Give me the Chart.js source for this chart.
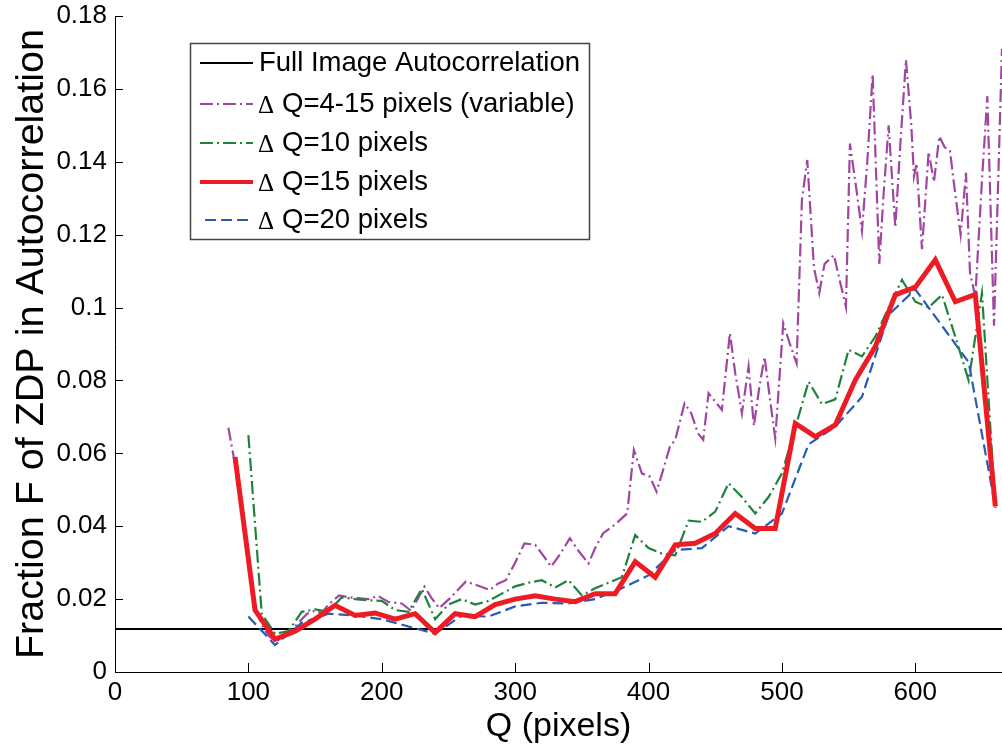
<!DOCTYPE html>
<html>
<head>
<meta charset="utf-8">
<script src="https://cdn.jsdelivr.net/npm/chart.js@4.4.0/dist/chart.umd.min.js"></script>
<style>
html, body { margin: 0; padding: 0; background: #fff; }
</style>
</head>
<body>
<canvas id="zdpChart" width="1002" height="747"></canvas>
<script>
// values
const fullImageQ = [0, 665];
const fullImageF = [0.0118, 0.0118];

const q15 = [90, 105, 120, 135, 150, 165, 180, 195, 210, 225,
             240, 255, 270, 285, 300, 315, 330, 345, 360, 375,
             390, 405, 420, 435, 450, 465, 480, 495, 510, 525,
             540, 555, 570, 585, 600, 615, 630, 645, 660];
const red15 = [0.059, 0.017, 0.009, 0.0112, 0.0145, 0.0183, 0.0155, 0.0162, 0.0145, 0.016,
               0.0108, 0.016, 0.0152, 0.0185, 0.020, 0.0209, 0.020, 0.0193, 0.0215, 0.0215,
               0.0303, 0.026, 0.0349, 0.0353, 0.038, 0.0435, 0.0394, 0.0394, 0.0682, 0.0646,
               0.0678, 0.0801, 0.0893, 0.1035, 0.1056, 0.1131, 0.1016, 0.1036, 0.0454];

const q10 = [100, 110, 120, 130, 140, 150, 160, 170, 180, 190,
             200, 210, 220, 230, 240, 250, 260, 270, 280, 290,
             300, 310, 320, 330, 340, 350, 360, 370, 380, 390,
             400, 410, 420, 430, 440, 450, 460, 470, 480, 490,
             500, 510, 520, 530, 540, 550, 560, 570, 580, 590,
             600, 610, 620, 630, 640, 650, 660];
const green10 = [0.065, 0.016, 0.0105, 0.0112, 0.0165, 0.0172, 0.0165, 0.0205, 0.020, 0.0197,
                 0.0195, 0.017, 0.0165, 0.0228, 0.0145, 0.0185, 0.020, 0.0185, 0.0195, 0.0215,
                 0.0235, 0.0245, 0.0252, 0.0232, 0.0252, 0.021, 0.023, 0.0245, 0.026, 0.0376,
                 0.034, 0.0325, 0.032, 0.0415, 0.0412, 0.044, 0.0518, 0.048, 0.0435, 0.048,
                 0.0545, 0.067, 0.0797, 0.0735, 0.0748, 0.0884, 0.0866, 0.092, 0.100, 0.1076,
                 0.1016, 0.100, 0.1035, 0.092, 0.080, 0.104, 0.045];

const q20 = [100, 120, 140, 160, 180, 200, 220, 240, 260, 280,
             300, 320, 340, 360, 380, 400, 420, 440, 460, 480,
             500, 520, 540, 560, 580, 600, 620, 640, 660];
const blue20 = [0.0152, 0.0074, 0.0135, 0.016, 0.0155, 0.0145, 0.0125, 0.0105, 0.0155, 0.0152,
                0.018, 0.019, 0.0188, 0.020, 0.023, 0.0265, 0.0335, 0.034, 0.040, 0.038,
                0.0435, 0.0625, 0.0673, 0.0755, 0.098, 0.105, 0.095, 0.085, 0.0454];

const qVar = [85, 89, 95, 100, 105, 110, 115, 120, 125, 130,
              135, 140, 144, 150, 155, 160, 168, 175, 182, 190,
              197, 205, 215, 222, 232, 237, 243, 251, 257, 263,
              270, 276, 281, 287, 293, 300, 307, 315, 321, 327,
              334, 341, 348, 355, 360, 366, 375, 384, 389, 395,
              401, 406, 411, 416, 420, 427, 432, 437, 441, 445,
              450, 455, 461, 465, 470, 475, 479, 483, 487, 491,
              495, 501, 506, 511, 515, 519, 524, 528, 532, 539,
              543, 548, 551, 556, 560, 564, 568, 573, 576, 580,
              585, 589, 593, 597, 599, 601, 605, 610, 614, 618,
              622, 626, 630, 634, 638, 641, 645, 650, 654, 659,
              665];
const purpleVar = [0.067, 0.059, 0.044, 0.029, 0.018, 0.013, 0.010, 0.0085, 0.0092, 0.0108,
                   0.0125, 0.0145, 0.016, 0.0168, 0.0162, 0.0185, 0.021, 0.0205, 0.0203, 0.020,
                   0.0209, 0.0192, 0.0188, 0.0168, 0.0234, 0.0205, 0.0175, 0.0202, 0.0225, 0.0248,
                   0.024, 0.0232, 0.0225, 0.0242, 0.0252, 0.030, 0.0353, 0.0349, 0.032, 0.0289,
                   0.0325, 0.0367, 0.033, 0.0298, 0.034, 0.0381, 0.0405, 0.0435, 0.0609, 0.0545,
                   0.0536, 0.0495, 0.0555, 0.0618, 0.0637, 0.0737, 0.071, 0.0655, 0.0637, 0.0765,
                   0.0742, 0.0719, 0.093, 0.082, 0.071, 0.0838, 0.0675, 0.078, 0.0865, 0.075,
                   0.0641, 0.0957, 0.090, 0.0847, 0.1295, 0.1405, 0.111, 0.104, 0.112, 0.1144,
                   0.108, 0.1002, 0.145, 0.132, 0.121, 0.140, 0.164, 0.112, 0.130, 0.150,
                   0.122, 0.146, 0.168, 0.150, 0.136, 0.1396, 0.116, 0.1427, 0.1345, 0.147,
                   0.144, 0.143, 0.131, 0.120, 0.137, 0.1095, 0.103, 0.135, 0.158, 0.095,
                   0.171];

const legendLabels = ['Full Image Autocorrelation', 'Δ Q=4-15 pixels (variable)',
                      'Δ Q=10 pixels', 'Δ Q=15 pixels', 'Δ Q=20 pixels'];

const FONT = '"Liberation Sans", Arial, sans-serif';

function pts(xs, ys) {
    return xs.map((x, i) => ({ x: x, y: ys[i] }));
}

// inward tick marks, matlab style
const innerTicks = {
    id: 'innerTicks',
    afterDatasetsDraw(chart) {
        const ctx = chart.ctx;
        const xs = chart.scales.x, ys = chart.scales.y;
        const area = chart.chartArea;
        ctx.save();
        ctx.strokeStyle = '#000';
        ctx.lineWidth = 1;
        ctx.beginPath();
        xs.ticks.forEach(t => {
            const px = Math.round(xs.getPixelForValue(t.value)) + 0.5;
            ctx.moveTo(px, area.bottom);
            ctx.lineTo(px, area.bottom - 9);
        });
        ys.ticks.forEach(t => {
            const py = Math.round(ys.getPixelForValue(t.value)) + 0.5;
            ctx.moveTo(area.left, py);
            ctx.lineTo(area.left + 8, py);
        });
        ctx.stroke();
        ctx.restore();
    }
};

// boxed legend in the upper left
const boxLegend = {
    id: 'boxLegend',
    afterDraw(chart) {
        const ctx = chart.ctx;
        const order = [4, 3, 2, 0, 1]; // black, purple, green, red, blue
        const x0 = 190, y0 = 43, w = 399, h = 196;
        const rowY = [63, 104, 143, 182, 220];
        ctx.save();
        ctx.fillStyle = '#fff';
        ctx.fillRect(x0, y0, w, h);
        ctx.strokeStyle = '#444';
        ctx.lineWidth = 1.5;
        ctx.strokeRect(x0 + 0.5, y0 + 0.5, w, h);
        order.forEach((di, i) => {
            const ds = chart.data.datasets[di];
            const y = rowY[i];
            ctx.beginPath();
            ctx.strokeStyle = ds.borderColor;
            ctx.lineWidth = ds.legendWidth || ds.borderWidth;
            ctx.setLineDash(ds.borderDash || []);
            ctx.moveTo(i === 4 ? 205 : 200, y);
            ctx.lineTo(253, y);
            ctx.stroke();
            ctx.setLineDash([]);
            ctx.fillStyle = '#000';
            ctx.textBaseline = 'middle';
            const label = legendLabels[i];
            if (label.startsWith('Δ')) {
                ctx.font = '25px "Liberation Serif", "Times New Roman", serif';
                ctx.fillText('Δ', 258, y + 2);
                ctx.font = '27.5px ' + FONT;
                ctx.fillText(label.slice(2), 282, y);
            } else {
                ctx.font = '27.5px ' + FONT;
                ctx.fillText(label, 259, y);
            }
        });
        ctx.restore();
    }
};

const ctx = document.getElementById('zdpChart').getContext('2d');

const datasets = [
    {
        label: 'Δ Q=15 pixels',
        data: pts(q15, red15),
        borderColor: 'rgb(237, 28, 36)',
        borderWidth: 5,
        legendWidth: 4,
        order: 1
    },
    {
        label: 'Δ Q=20 pixels',
        data: pts(q20, blue20),
        borderColor: 'rgb(40, 90, 185)',
        borderWidth: 2.2,
        borderDash: [11, 5],
        order: 2
    },
    {
        label: 'Δ Q=10 pixels',
        data: pts(q10, green10),
        borderColor: 'rgb(30, 130, 60)',
        borderWidth: 2.2,
        borderDash: [13, 4, 2, 4],
        order: 3
    },
    {
        label: 'Δ Q=4-15 pixels (variable)',
        data: pts(qVar, purpleVar),
        borderColor: 'rgb(160, 70, 160)',
        borderWidth: 2.2,
        borderDash: [13, 4, 2, 4],
        order: 4
    },
    {
        label: 'Full Image Autocorrelation',
        data: pts(fullImageQ, fullImageF),
        borderColor: '#000',
        borderWidth: 2,
        order: 5
    }
];

new Chart(ctx, {
    type: 'line',
    data: { datasets: datasets },
    options: {
        responsive: false,
        animation: false,
        events: [],
        layout: { padding: { top: 16, right: 0, bottom: 0, left: 0 } },
        elements: { point: { radius: 0 }, line: { tension: 0, fill: false } },
        plugins: { legend: { display: false }, tooltip: { enabled: false } },
        scales: {
            x: {
                type: 'linear',
                min: 0,
                max: 665,
                afterFit: s => { s.height = 75; s.paddingLeft = 0; s.paddingRight = 0; },
                grid: { display: false, drawTicks: false },
                border: { display: true, color: '#000', width: 1 },
                ticks: {
                    stepSize: 100,
                    includeBounds: false,
                    padding: 5,
                    color: '#000',
                    font: { family: FONT, size: 26 },
                    maxRotation: 0
                },
                title: {
                    display: true,
                    text: 'Q (pixels)',
                    color: '#000',
                    font: { family: FONT, size: 34 },
                    padding: { top: 0, bottom: 0 }
                }
            },
            y: {
                min: 0,
                max: 0.18,
                afterFit: s => { s.width = 115; s.paddingTop = 0; s.paddingBottom = 0; },
                grid: { display: false, drawTicks: false },
                border: { display: true, color: '#000', width: 1 },
                ticks: {
                    stepSize: 0.02,
                    padding: 8,
                    color: '#000',
                    font: { family: FONT, size: 26 },
                    callback: v => String(+v.toFixed(2))
                },
                title: {
                    display: true,
                    text: 'Fraction F of ZDP in Autocorrelation',
                    color: '#000',
                    font: { family: FONT, size: 39.5 },
                    padding: { top: 8, bottom: 0 }
                }
            }
        }
    },
    plugins: [innerTicks, boxLegend]
});
</script>
</body>
</html>
